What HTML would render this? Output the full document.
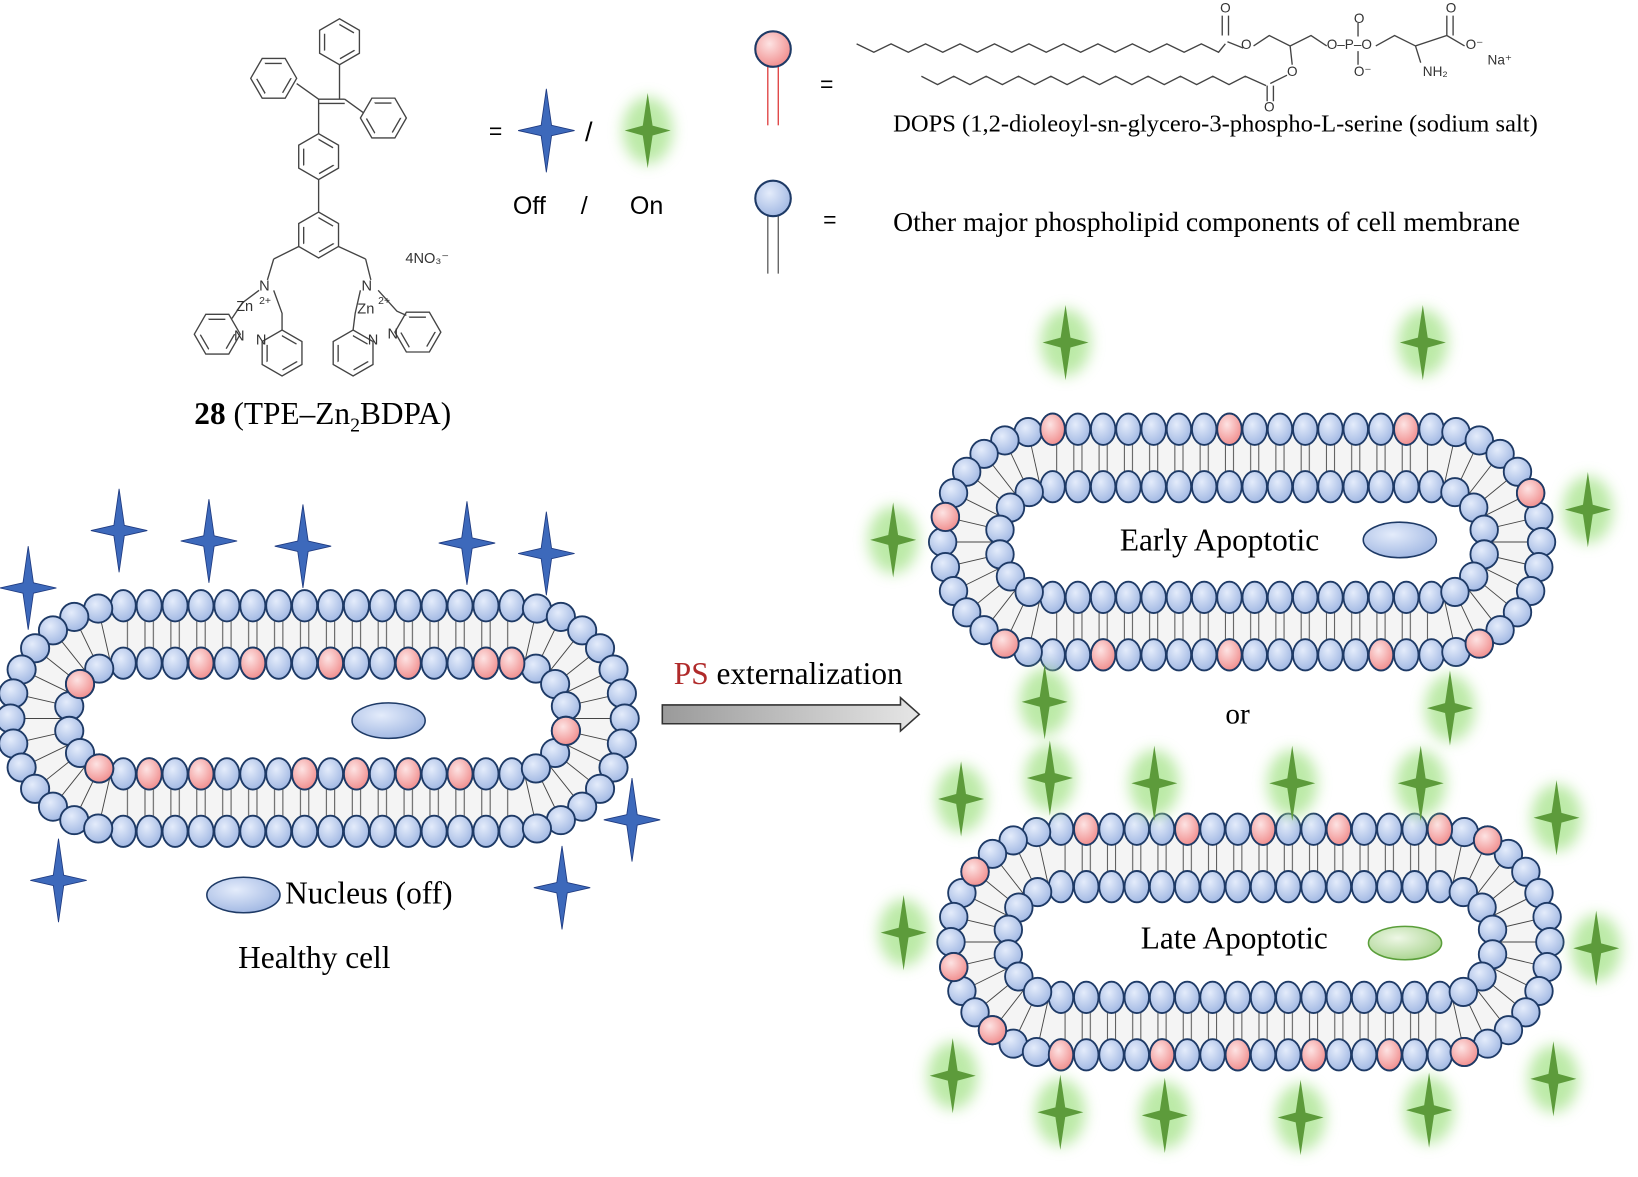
<!DOCTYPE html>
<html><head><meta charset="utf-8">
<style>html,body{margin:0;padding:0;background:#fff;}svg{display:block}</style></head>
<body>
<svg width="1638" height="1177" viewBox="0 0 1568 1127" preserveAspectRatio="none" xmlns="http://www.w3.org/2000/svg" xmlns:xlink="http://www.w3.org/1999/xlink" font-family="Liberation Serif, serif">
<defs>
<radialGradient id="gb" cx="0.4" cy="0.35" r="0.7"><stop offset="0" stop-color="#e4ecfb"/><stop offset="1" stop-color="#9fb6e2"/></radialGradient>
<radialGradient id="gp" cx="0.4" cy="0.35" r="0.7"><stop offset="0" stop-color="#fde3e3"/><stop offset="1" stop-color="#f08a8a"/></radialGradient>
<radialGradient id="gg" cx="0.4" cy="0.35" r="0.7"><stop offset="0" stop-color="#eef7e6"/><stop offset="1" stop-color="#a8d48e"/></radialGradient>
<linearGradient id="ga" x1="0" x2="1"><stop offset="0" stop-color="#9a9a9a"/><stop offset="1" stop-color="#e6e6e6"/></linearGradient>
<filter id="glow" x="-1" y="-1" width="3" height="3"><feGaussianBlur stdDeviation="7"/></filter>
<pattern id="tails" x="118" y="0" width="24.8" height="40" patternUnits="userSpaceOnUse">
<rect width="24.8" height="40" fill="#f4f4f4"/>
<line x1="4" y1="0" x2="4" y2="40" stroke="#444" stroke-width="0.9"/>
<line x1="20.8" y1="0" x2="20.8" y2="40" stroke="#444" stroke-width="0.9"/>
</pattern>
<ellipse id="hb" rx="12" ry="15" fill="url(#gb)" stroke="#1e3a66" stroke-width="1.8"/>
<ellipse id="hp" rx="12" ry="15" fill="url(#gp)" stroke="#1e3a66" stroke-width="1.8"/>
<circle id="cb" r="13.5" fill="url(#gb)" stroke="#1e3a66" stroke-width="1.8"/>
<circle id="cp" r="13.5" fill="url(#gp)" stroke="#1e3a66" stroke-width="1.8"/>
<path id="bs" d="M0,-40 L5,-5 L27,0 L5,5 L0,40 L-5,5 L-27,0 L-5,-5Z" fill="#3d69bb" stroke="#1e3a80" stroke-width="0.8"/>
<g id="gs"><ellipse rx="24" ry="32" fill="#a6e38a" opacity="0.75" filter="url(#glow)"/><path d="M0,-36 L4.7,-4.7 L22,0 L4.7,4.7 L0,36 L-4.7,4.7 L-22,0 L-4.7,-4.7Z" fill="#5d9b3b"/></g>
<g id="h0"><polygon points="22,0 11,19.05 -11,19.05 -22,0 -11,-19.05 11,-19.05"/><polygon points="16.5,0 8.25,14.3 -8.25,14.3 -16.5,0 -8.25,-14.3 8.25,-14.3" stroke-dasharray="16 17"/></g>
<g id="h30"><polygon points="19.05,11 0,22 -19.05,11 -19.05,-11 0,-22 19.05,-11"/><polygon points="14.3,8.25 0,16.5 -14.3,8.25 -14.3,-8.25 0,-16.5 14.3,-8.25" stroke-dasharray="16 17"/></g>

<g id="mem">
<path d="M118,580 H490 A108,108 0 0 1 490,796 H118 A108,108 0 0 1 118,580 Z" fill="#f4f4f4"/>
<rect x="118" y="594" width="372" height="28" fill="url(#tails)"/>
<rect x="118" y="755" width="372" height="28" fill="url(#tails)"/>
<g stroke="#444" stroke-width="0.9">
<line x1="514" y1="582.7" x2="490" y2="688"/><line x1="536.9" y1="590.7" x2="490" y2="688"/><line x1="557.3" y1="603.6" x2="490" y2="688"/><line x1="574.4" y1="620.7" x2="490" y2="688"/><line x1="587.3" y1="641.1" x2="490" y2="688"/><line x1="595.3" y1="664" x2="490" y2="688"/><line x1="598" y1="688" x2="490" y2="688"/><line x1="595.3" y1="712" x2="490" y2="688"/><line x1="587.3" y1="734.9" x2="490" y2="688"/><line x1="574.4" y1="755.3" x2="490" y2="688"/><line x1="557.3" y1="772.4" x2="490" y2="688"/><line x1="536.9" y1="785.3" x2="490" y2="688"/><line x1="514" y1="793.3" x2="490" y2="688"/>
<line x1="94" y1="582.7" x2="118" y2="688"/><line x1="71.1" y1="590.7" x2="118" y2="688"/><line x1="50.7" y1="603.6" x2="118" y2="688"/><line x1="33.6" y1="620.7" x2="118" y2="688"/><line x1="20.7" y1="641.1" x2="118" y2="688"/><line x1="12.7" y1="664" x2="118" y2="688"/><line x1="10" y1="688" x2="118" y2="688"/><line x1="12.7" y1="712" x2="118" y2="688"/><line x1="20.7" y1="734.9" x2="118" y2="688"/><line x1="33.6" y1="755.3" x2="118" y2="688"/><line x1="50.7" y1="772.4" x2="118" y2="688"/><line x1="71.1" y1="785.3" x2="118" y2="688"/><line x1="94" y1="793.3" x2="118" y2="688"/>
</g>
<path d="M118,635 H490 A53,53 0 0 1 490,741 H118 A53,53 0 0 1 118,635 Z" fill="#fff"/>
<g>
<use href="#hb" x="118" y="580"/><use href="#hb" x="142.8" y="580"/><use href="#hb" x="167.6" y="580"/><use href="#hb" x="192.4" y="580"/><use href="#hb" x="217.2" y="580"/><use href="#hb" x="242" y="580"/><use href="#hb" x="266.8" y="580"/><use href="#hb" x="291.6" y="580"/><use href="#hb" x="316.4" y="580"/><use href="#hb" x="341.2" y="580"/><use href="#hb" x="366" y="580"/><use href="#hb" x="390.8" y="580"/><use href="#hb" x="415.6" y="580"/><use href="#hb" x="440.4" y="580"/><use href="#hb" x="465.2" y="580"/><use href="#hb" x="490" y="580"/>
<use href="#hb" x="118" y="796"/><use href="#hb" x="142.8" y="796"/><use href="#hb" x="167.6" y="796"/><use href="#hb" x="192.4" y="796"/><use href="#hb" x="217.2" y="796"/><use href="#hb" x="242" y="796"/><use href="#hb" x="266.8" y="796"/><use href="#hb" x="291.6" y="796"/><use href="#hb" x="316.4" y="796"/><use href="#hb" x="341.2" y="796"/><use href="#hb" x="366" y="796"/><use href="#hb" x="390.8" y="796"/><use href="#hb" x="415.6" y="796"/><use href="#hb" x="440.4" y="796"/><use href="#hb" x="465.2" y="796"/><use href="#hb" x="490" y="796"/>
<use href="#hb" x="118" y="635"/><use href="#hb" x="142.8" y="635"/><use href="#hb" x="167.6" y="635"/><use href="#hb" x="192.4" y="635"/><use href="#hb" x="217.2" y="635"/><use href="#hb" x="242" y="635"/><use href="#hb" x="266.8" y="635"/><use href="#hb" x="291.6" y="635"/><use href="#hb" x="316.4" y="635"/><use href="#hb" x="341.2" y="635"/><use href="#hb" x="366" y="635"/><use href="#hb" x="390.8" y="635"/><use href="#hb" x="415.6" y="635"/><use href="#hb" x="440.4" y="635"/><use href="#hb" x="465.2" y="635"/><use href="#hb" x="490" y="635"/>
<use href="#hb" x="118" y="741"/><use href="#hb" x="142.8" y="741"/><use href="#hb" x="167.6" y="741"/><use href="#hb" x="192.4" y="741"/><use href="#hb" x="217.2" y="741"/><use href="#hb" x="242" y="741"/><use href="#hb" x="266.8" y="741"/><use href="#hb" x="291.6" y="741"/><use href="#hb" x="316.4" y="741"/><use href="#hb" x="341.2" y="741"/><use href="#hb" x="366" y="741"/><use href="#hb" x="390.8" y="741"/><use href="#hb" x="415.6" y="741"/><use href="#hb" x="440.4" y="741"/><use href="#hb" x="465.2" y="741"/><use href="#hb" x="490" y="741"/>
<use href="#cb" x="514" y="582.7"/><use href="#cb" x="536.9" y="590.7"/><use href="#cb" x="557.3" y="603.6"/><use href="#cb" x="574.4" y="620.7"/><use href="#cb" x="587.3" y="641.1"/><use href="#cb" x="595.3" y="664"/><use href="#cb" x="598" y="688"/><use href="#cb" x="595.3" y="712"/><use href="#cb" x="587.3" y="734.9"/><use href="#cb" x="574.4" y="755.3"/><use href="#cb" x="557.3" y="772.4"/><use href="#cb" x="536.9" y="785.3"/><use href="#cb" x="514" y="793.3"/>
<use href="#cb" x="94" y="582.7"/><use href="#cb" x="71.1" y="590.7"/><use href="#cb" x="50.7" y="603.6"/><use href="#cb" x="33.6" y="620.7"/><use href="#cb" x="20.7" y="641.1"/><use href="#cb" x="12.7" y="664"/><use href="#cb" x="10" y="688"/><use href="#cb" x="12.7" y="712"/><use href="#cb" x="20.7" y="734.9"/><use href="#cb" x="33.6" y="755.3"/><use href="#cb" x="50.7" y="772.4"/><use href="#cb" x="71.1" y="785.3"/><use href="#cb" x="94" y="793.3"/>
<use href="#cb" x="513" y="640.2"/><use href="#cb" x="531.4" y="655"/><use href="#cb" x="541.7" y="676.2"/><use href="#cb" x="541.7" y="699.8"/><use href="#cb" x="531.4" y="721"/><use href="#cb" x="513" y="735.8"/>
<use href="#cb" x="95" y="640.2"/><use href="#cb" x="76.6" y="655"/><use href="#cb" x="66.3" y="676.2"/><use href="#cb" x="66.3" y="699.8"/><use href="#cb" x="76.6" y="721"/><use href="#cb" x="95" y="735.8"/>
</g>
</g>
</defs>

<!-- chemistry -->
<g stroke="#444" stroke-width="1.3" fill="none">
<use href="#h30" x="325" y="40"/><use href="#h0" x="262" y="75"/><use href="#h0" x="367" y="113"/><use href="#h30" x="305" y="150"/><use href="#h30" x="305" y="225"/>
<use href="#h0" x="208" y="320"/><use href="#h30" x="270" y="338"/><use href="#h30" x="338" y="338"/><use href="#h0" x="400" y="318"/>
<path d="M325,62 L325,95 M305,95 L330,95 M305,99 L330,99 M305,95 L284,80 M330,95 L348,108 M305,95 L305,128 M305,172 L305,203 M286,236 L262,248 M324,236 L350,248 M262,248 L256,268 M350,248 L355,268 M248,278 L232,290 L222,305 M262,278 L270,300 L270,316 M345,278 L340,300 L338,316 M362,278 L380,298 L389,302"/>
<polyline points="820,42 836.5,50 853,42 869.5,50 886,42 902.5,50 919,42 935.5,50 952,42 968.5,50 985,42 1001.5,50 1018,42 1034.5,50 1051,42 1067.5,50 1084,42 1100.5,50 1117,42 1133.5,50 1150,42 1166.5,50 1173,42"/>
<polyline points="882,73 897.5,81 913,73 928.5,81 944,73 959.5,81 975,73 990.5,81 1006,73 1021.5,81 1037,73 1052.5,81 1068,73 1083.5,81 1099,73 1114.5,81 1130,73 1145.5,81 1161,73 1176.5,81 1192,73 1212,82"/>
<path d="M1170,34 L1170,15 M1176,34 L1176,15 M1175,40 L1190,46 M1200,44 L1215,34 L1235,44 L1255,34 L1270,44 M1235,44 L1237,62 M1213,82 L1213,97 M1219,82 L1219,97 M1232,72 L1216,80 M1317,44 L1335,34 L1355,44 L1385,34 L1402,44 M1385,34 L1385,15 M1391,34 L1391,15 M1355,44 L1360,60 M1300,22 L1300,35 M1300,49 L1300,62"/>
</g>
<g font-family="Liberation Sans, sans-serif" font-size="14" fill="#333">
<text x="248" y="278">N</text><text x="346" y="278">N</text><text x="226" y="298">Zn</text><text x="342" y="300">Zn</text><text x="224" y="326">N</text><text x="245" y="330">N</text><text x="352" y="330">N</text><text x="371" y="324">N</text>
<text x="248" y="291" font-size="10">2+</text><text x="362" y="291" font-size="10">2+</text>
</g>
<g font-family="Liberation Sans, sans-serif" font-size="13" fill="#333">
<text x="1168" y="12">O</text><text x="1188" y="47">O</text><text x="1232" y="73">O</text><text x="1210" y="107">O</text>
<text x="1270" y="47">O–P–O</text><text x="1296" y="22">O</text><text x="1296" y="73">O⁻</text>
<text x="1384" y="12">O</text><text x="1403" y="47">O⁻</text><text x="1362" y="73">NH₂</text><text x="1424" y="62">Na⁺</text>
</g>

<!-- membranes -->
<use href="#mem"/>
<g>
<use href="#hp" x="192.4" y="635"/><use href="#hp" x="242" y="635"/><use href="#hp" x="316.4" y="635"/><use href="#hp" x="390.8" y="635"/><use href="#hp" x="465.2" y="635"/><use href="#hp" x="490" y="635"/>
<use href="#hp" x="142.8" y="741"/><use href="#hp" x="192.4" y="741"/><use href="#hp" x="291.6" y="741"/><use href="#hp" x="341.2" y="741"/><use href="#hp" x="390.8" y="741"/><use href="#hp" x="440.4" y="741"/>
<use href="#cp" x="76.6" y="655"/><use href="#cp" x="95" y="735.8"/><use href="#cp" x="541.7" y="699.8"/>
</g>
<g transform="translate(1189,519) scale(0.975,1) translate(-304,-688)">
<use href="#mem"/>
<use href="#hp" x="118" y="580"/><use href="#hp" x="291.6" y="580"/><use href="#hp" x="465.2" y="580"/>
<use href="#hp" x="167.6" y="796"/><use href="#hp" x="291.6" y="796"/><use href="#hp" x="440.4" y="796"/>
<use href="#cp" x="12.7" y="664"/><use href="#cp" x="587.3" y="641.1"/><use href="#cp" x="71.1" y="785.3"/><use href="#cp" x="536.9" y="785.3"/>
</g>
<g transform="translate(1197,902) scale(0.975,1) translate(-304,-688)">
<use href="#mem"/>
<use href="#hp" x="142.8" y="580"/><use href="#hp" x="242" y="580"/><use href="#hp" x="316.4" y="580"/><use href="#hp" x="390.8" y="580"/><use href="#hp" x="490" y="580"/>
<use href="#hp" x="118" y="796"/><use href="#hp" x="217.2" y="796"/><use href="#hp" x="291.6" y="796"/><use href="#hp" x="366" y="796"/><use href="#hp" x="440.4" y="796"/>
<use href="#cp" x="536.9" y="590.7"/><use href="#cp" x="33.6" y="620.7"/><use href="#cp" x="12.7" y="712"/><use href="#cp" x="50.7" y="772.4"/><use href="#cp" x="514" y="793.3"/>
</g>

<!-- stars -->
<g>
<use href="#bs" x="27" y="563"/><use href="#bs" x="114" y="508"/><use href="#bs" x="200" y="518"/><use href="#bs" x="290" y="523"/><use href="#bs" x="447" y="520"/><use href="#bs" x="523" y="530"/><use href="#bs" x="605" y="785"/><use href="#bs" x="56" y="843"/><use href="#bs" x="538" y="850"/><use href="#bs" x="523" y="125"/>
<use href="#gs" x="620" y="125"/>
<use href="#gs" x="1020" y="328"/><use href="#gs" x="1362" y="328"/><use href="#gs" x="855" y="517"/><use href="#gs" x="1520" y="488"/><use href="#gs" x="1000" y="672"/><use href="#gs" x="1388" y="678"/>
<use href="#gs" x="920" y="765"/><use href="#gs" x="1005" y="745"/><use href="#gs" x="1105" y="750"/><use href="#gs" x="1237" y="750"/><use href="#gs" x="1360" y="750"/><use href="#gs" x="1490" y="783"/><use href="#gs" x="865" y="893"/><use href="#gs" x="1528" y="908"/>
<use href="#gs" x="912" y="1030"/><use href="#gs" x="1015" y="1065"/><use href="#gs" x="1115" y="1068"/><use href="#gs" x="1245" y="1070"/><use href="#gs" x="1368" y="1063"/><use href="#gs" x="1487" y="1033"/>
</g>

<!-- legend -->
<text x="468" y="133" font-family="Liberation Sans, sans-serif" font-size="22">=</text>
<text x="560" y="135" font-family="Liberation Sans, sans-serif" font-size="26">/</text>
<text x="491" y="205" font-family="Liberation Sans, sans-serif" font-size="24">Off</text>
<text x="556" y="205" font-family="Liberation Sans, sans-serif" font-size="24">/</text>
<text x="603" y="205" font-family="Liberation Sans, sans-serif" font-size="24">On</text>
<line x1="735" y1="60" x2="735" y2="120" stroke="#d33" stroke-width="1.2"/><line x1="745" y1="60" x2="745" y2="120" stroke="#d33" stroke-width="1.2"/>
<circle cx="740" cy="47" r="17" fill="url(#gp)" stroke="#1e3a66" stroke-width="2"/>
<line x1="735" y1="205" x2="735" y2="262" stroke="#555" stroke-width="1.2"/><line x1="745" y1="205" x2="745" y2="262" stroke="#555" stroke-width="1.2"/>
<circle cx="740" cy="190" r="17" fill="url(#gb)" stroke="#1e3a66" stroke-width="2"/>
<text x="785" y="88" font-family="Liberation Sans, sans-serif" font-size="22">=</text>
<text x="788" y="218" font-family="Liberation Sans, sans-serif" font-size="22">=</text>
<text x="855" y="126" font-size="23.5">DOPS (1,2-dioleoyl-sn-glycero-3-phospho-L-serine  (sodium salt)</text>
<text x="855" y="221" font-size="26.5">Other major phospholipid components of cell membrane</text>

<!-- labels -->
<text x="186" y="406" font-size="30"><tspan font-weight="bold">28</tspan> (TPE–Zn<tspan font-size="19" dy="7">2</tspan><tspan dy="-7">BDPA)</tspan></text>
<text x="388" y="252" font-family="Liberation Sans, sans-serif" font-size="14" fill="#333">4NO₃⁻</text>
<text x="645" y="655" font-size="30"><tspan fill="#b02a2a">PS</tspan> externalization</text>
<polygon points="634,675 862,675 862,668 880,684 862,700 862,693 634,693" fill="url(#ga)" stroke="#333" stroke-width="1.5"/>
<text x="1173" y="693" font-size="28">or</text>
<text x="1072" y="527" font-size="30">Early Apoptotic</text>
<text x="1092" y="908" font-size="30">Late Apoptotic</text>
<text x="273" y="865" font-size="30">Nucleus (off)</text>
<text x="228" y="927" font-size="30">Healthy cell</text>
<ellipse cx="372" cy="690" rx="35" ry="17" fill="url(#gb)" stroke="#1e3a66" stroke-width="1.5"/>
<ellipse cx="233" cy="857" rx="35" ry="17" fill="url(#gb)" stroke="#1e3a66" stroke-width="1.5"/>
<ellipse cx="1340" cy="517" rx="35" ry="17" fill="url(#gb)" stroke="#1e3a66" stroke-width="1.5"/>
<ellipse cx="1345" cy="903" rx="35" ry="16" fill="url(#gg)" stroke="#5a9e3a" stroke-width="1.5"/>
</svg>
</body></html>
